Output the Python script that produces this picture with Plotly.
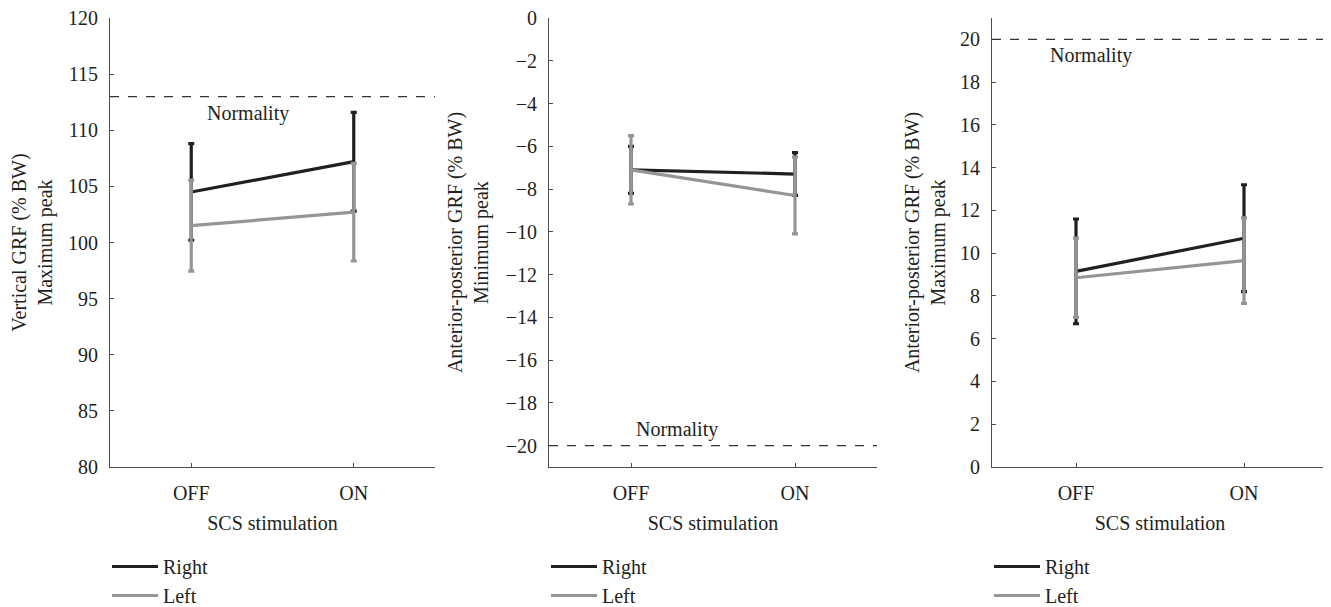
import plotly.graph_objects as go

# ---------------- data ----------------
conditions = ["OFF", "ON"]
series_names = ["Right", "Left"]

# Panel 1: Vertical GRF maximum peak (% BW)
vert_right = [104.5, 107.2]
vert_right_err = [4.3, 4.4]
vert_left = [101.5, 102.7]
vert_left_err = [4.05, 4.35]
vert_normality = 113

# Panel 2: Anterior-posterior GRF minimum peak (% BW)
apmin_right = [-7.1, -7.3]
apmin_right_err = [1.1, 1.0]
apmin_left = [-7.1, -8.3]
apmin_left_err = [1.6, 1.8]
apmin_normality = -20

# Panel 3: Anterior-posterior GRF maximum peak (% BW)
apmax_right = [9.15, 10.7]
apmax_right_err = [2.45, 2.5]
apmax_left = [8.85, 9.65]
apmax_left_err = [1.85, 2.0]
apmax_normality = 20

y_titles = [
    "Vertical GRF (% BW)<br>Maximum peak",
    "Anterior-posterior GRF (% BW)<br>Minimum peak",
    "Anterior-posterior GRF (% BW)<br>Maximum peak",
]
x_title = "SCS stimulation"
normality_label = "Normality"

# ---------------- style ----------------
BLACK = "#231f20"
GREY = "#939598"
AXIS = "#4d4d4d"
FONT = "Liberation Serif"
FS = 20

# the page body has an 8px margin, so the figure is drawn 8px in from the corner
OFF_PX = 8
W, H = 1331 - OFF_PX, 607 - OFF_PX


def px_x(p):
    return (p - OFF_PX) / W


def px_y(p):
    return 1 - (p - OFF_PX) / H


x_domains = [(px_x(110), px_x(435)), (px_x(549), px_x(877)), (px_x(992), px_x(1328))]
y_domain = (px_y(467), px_y(18))
y_ranges = [(80, 120), (-21, 0), (0, 21)]
y_dticks = [5, 2, 2]
y_title_standoff = [11, 11, 9]

panels = [
    (vert_right, vert_right_err, vert_left, vert_left_err, vert_normality),
    (apmin_right, apmin_right_err, apmin_left, apmin_left_err, apmin_normality),
    (apmax_right, apmax_right_err, apmax_left, apmax_left_err, apmax_normality),
]
# label placement relative to the normality line: (x in category units, above?)
norm_label_pos = [(0.35, False), (0.28, True), (0.09, False)]

fig = go.Figure()
layout = dict(
    template="none",
    width=W, height=H, autosize=False,
    margin=dict(l=0, r=0, t=0, b=0, pad=0, autoexpand=False),
    paper_bgcolor="white", plot_bgcolor="white",
    font=dict(family=FONT, size=FS, color=BLACK),
    showlegend=True,
)
shapes, annotations = [], []

for i, (r, re, l, le, norm) in enumerate(panels):
    n = "" if i == 0 else str(i + 1)
    xa, ya = "x" + n, "y" + n
    lg = "legend" + n
    for name, vals, errs, col in ((series_names[0], r, re, BLACK), (series_names[1], l, le, GREY)):
        fig.add_trace(go.Scatter(
            x=conditions, y=vals, mode="lines", name=name,
            line=dict(color=col, width=3.2),
            error_y=dict(type="data", array=errs, visible=True, color=col, thickness=3.2, width=3),
            xaxis=xa, yaxis=ya, legend=lg, legendgroup=name + n,
            hoverinfo="skip",
        ))
    layout["xaxis" + n] = dict(
        domain=x_domains[i], anchor=ya, type="category", categoryorder="array",
        categoryarray=conditions, range=[-0.5, 1.5], automargin=False,
        showline=True, linecolor=AXIS, linewidth=1, ticks="inside", ticklen=4,
        tickcolor=AXIS, showgrid=False, zeroline=False, ticklabelstandoff=8,
        ticklabeloverflow="allow",
        tickfont=dict(family=FONT, size=FS, color=BLACK),
        title=dict(text=x_title, font=dict(family=FONT, size=FS, color=BLACK), standoff=12),
    )
    layout["yaxis" + n] = dict(
        domain=y_domain, anchor=xa, range=list(y_ranges[i]), dtick=y_dticks[i],
        tick0=0, showline=True, linecolor=AXIS, linewidth=1, ticks="inside",
        ticklen=4, tickcolor=AXIS, showgrid=False, zeroline=False, automargin=False,
        ticklabelstandoff=7, ticklabeloverflow="allow",
        tickfont=dict(family=FONT, size=FS, color=BLACK),
        title=dict(text=y_titles[i], font=dict(family=FONT, size=FS, color=BLACK),
                   standoff=y_title_standoff[i]),
    )
    shapes.append(dict(
        type="line", xref=xa + " domain", yref=ya, x0=0, x1=1, y0=norm, y1=norm,
        line=dict(color="#333333", width=1.2, dash="dash"),
    ))
    lx, above = norm_label_pos[i]
    annotations.append(dict(
        text=normality_label, xref=xa, yref=ya, x=lx, y=norm, showarrow=False,
        xanchor="center", yanchor="bottom" if above else "top",
        yshift=3 if above else -3,
        font=dict(family=FONT, size=FS, color=BLACK),
    ))
    layout[lg] = dict(
        x=x_domains[i][0] - 3 / W, xanchor="left", y=px_y(547), yanchor="top",
        orientation="v", traceorder="grouped", tracegroupgap=0,
        bgcolor="rgba(0,0,0,0)", borderwidth=0,
        font=dict(family=FONT, size=FS, color=BLACK),
        itemwidth=46,
    )

layout["shapes"] = shapes
layout["annotations"] = annotations
fig.update_layout(**layout)
fig.write_html("out.html")
